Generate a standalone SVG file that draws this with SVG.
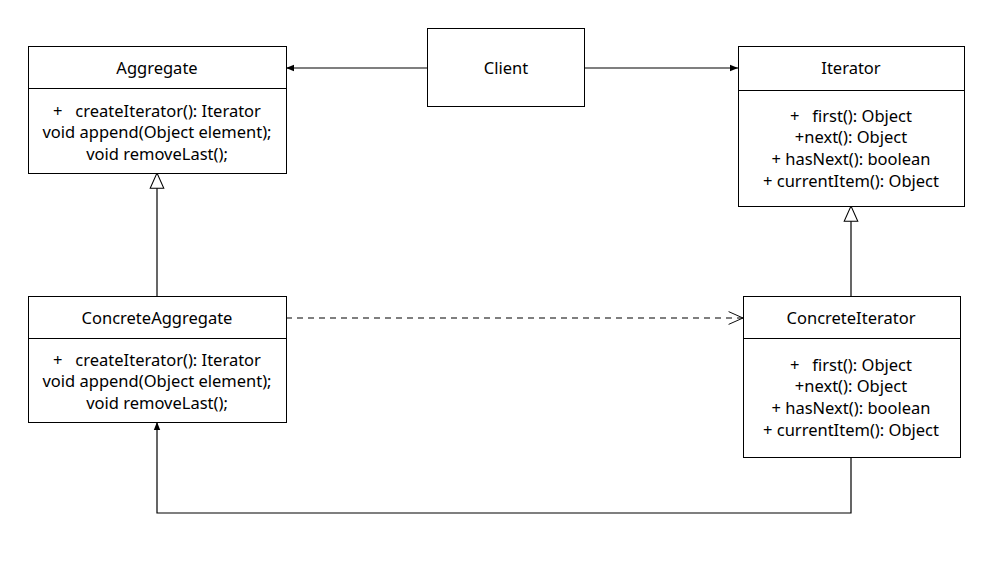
<svg xmlns="http://www.w3.org/2000/svg" width="993" height="563" viewBox="0 0 993 563">
<style>
.box{fill:#fff;stroke:#000;stroke-width:1}
.t{font-family:"Noto Sans","Open Sans",sans-serif;font-size:16.5px;fill:#000;text-anchor:middle;white-space:pre}
.ln{fill:none;stroke:#000;stroke-width:1.2}
</style>
<defs>
<marker id="fill" viewBox="0 0 10 10" refX="10" refY="5" markerWidth="8" markerHeight="8" markerUnits="userSpaceOnUse" orient="auto"><path d="M0,1 L10,5 L0,9 Z" fill="#000"/></marker>
<marker id="tri" viewBox="0 0 20 20" refX="19" refY="10" markerWidth="17" markerHeight="17" markerUnits="userSpaceOnUse" orient="auto"><path d="M1,2 L19,10 L1,18 Z" fill="#fff" stroke="#000" stroke-width="1.2"/></marker>
<marker id="open" viewBox="0 0 20 20" refX="19" refY="10" markerWidth="16" markerHeight="16" markerUnits="userSpaceOnUse" orient="auto"><path d="M1,2 L19,10 L1,18" fill="none" stroke="#000" stroke-width="1.2"/></marker>
</defs>
<rect width="993" height="563" fill="#fff"/>
<g id="connectors">
<line class="ln" x1="427" y1="68" x2="286" y2="68" marker-end="url(#fill)"/>
<line class="ln" x1="584" y1="68" x2="738" y2="68" marker-end="url(#fill)"/>
<line class="ln" x1="157" y1="296" x2="157" y2="173" marker-end="url(#tri)"/>
<line class="ln" x1="851" y1="296" x2="851" y2="206" marker-end="url(#tri)"/>
<line class="ln" x1="286" y1="318" x2="743" y2="318" stroke-dasharray="6,5" marker-end="url(#open)"/>
<polyline class="ln" points="851,457 851,513 157,513 157,422" marker-end="url(#fill)"/>
</g>
<g id="client">
<rect class="box" x="427.5" y="28.5" width="157" height="78"/>
<text class="t" x="506" y="73.5">Client</text>
</g>
<g id="aggregate">
<rect class="box" x="28.5" y="46.5" width="258" height="127"/>
<line class="ln" x1="28.5" y1="88.5" x2="286.5" y2="88.5" stroke-width="1"/>
<text class="t" x="157" y="73.5">Aggregate</text>
<text class="t" x="157" y="116.5">+   createIterator(): Iterator</text>
<text class="t" x="157" y="138">void append(Object element);</text>
<text class="t" x="157" y="159.5">void removeLast();</text>
</g>
<g id="iterator">
<rect class="box" x="738.5" y="46.5" width="226" height="160"/>
<line class="ln" x1="738.5" y1="90.5" x2="964.5" y2="90.5" stroke-width="1"/>
<text class="t" x="851" y="73.5">Iterator</text>
<text class="t" x="851" y="121.5">+   first(): Object</text>
<text class="t" x="851" y="143">+next(): Object</text>
<text class="t" x="851" y="164.5">+ hasNext(): boolean</text>
<text class="t" x="851" y="186.5">+ currentItem(): Object</text>
</g>
<g id="concreteAggregate">
<rect class="box" x="28.5" y="296.5" width="258" height="126"/>
<line class="ln" x1="28.5" y1="338.5" x2="286.5" y2="338.5" stroke-width="1"/>
<text class="t" x="157" y="323.5">ConcreteAggregate</text>
<text class="t" x="157" y="365.5">+   createIterator(): Iterator</text>
<text class="t" x="157" y="387">void append(Object element);</text>
<text class="t" x="157" y="408.5">void removeLast();</text>
</g>
<g id="concreteIterator">
<rect class="box" x="743.5" y="296.5" width="217" height="161"/>
<line class="ln" x1="743.5" y1="338.5" x2="960.5" y2="338.5" stroke-width="1"/>
<text class="t" x="851" y="323.5">ConcreteIterator</text>
<text class="t" x="851" y="370.5">+   first(): Object</text>
<text class="t" x="851" y="392">+next(): Object</text>
<text class="t" x="851" y="413.5">+ hasNext(): boolean</text>
<text class="t" x="851" y="435.5">+ currentItem(): Object</text>
</g>
</svg>
